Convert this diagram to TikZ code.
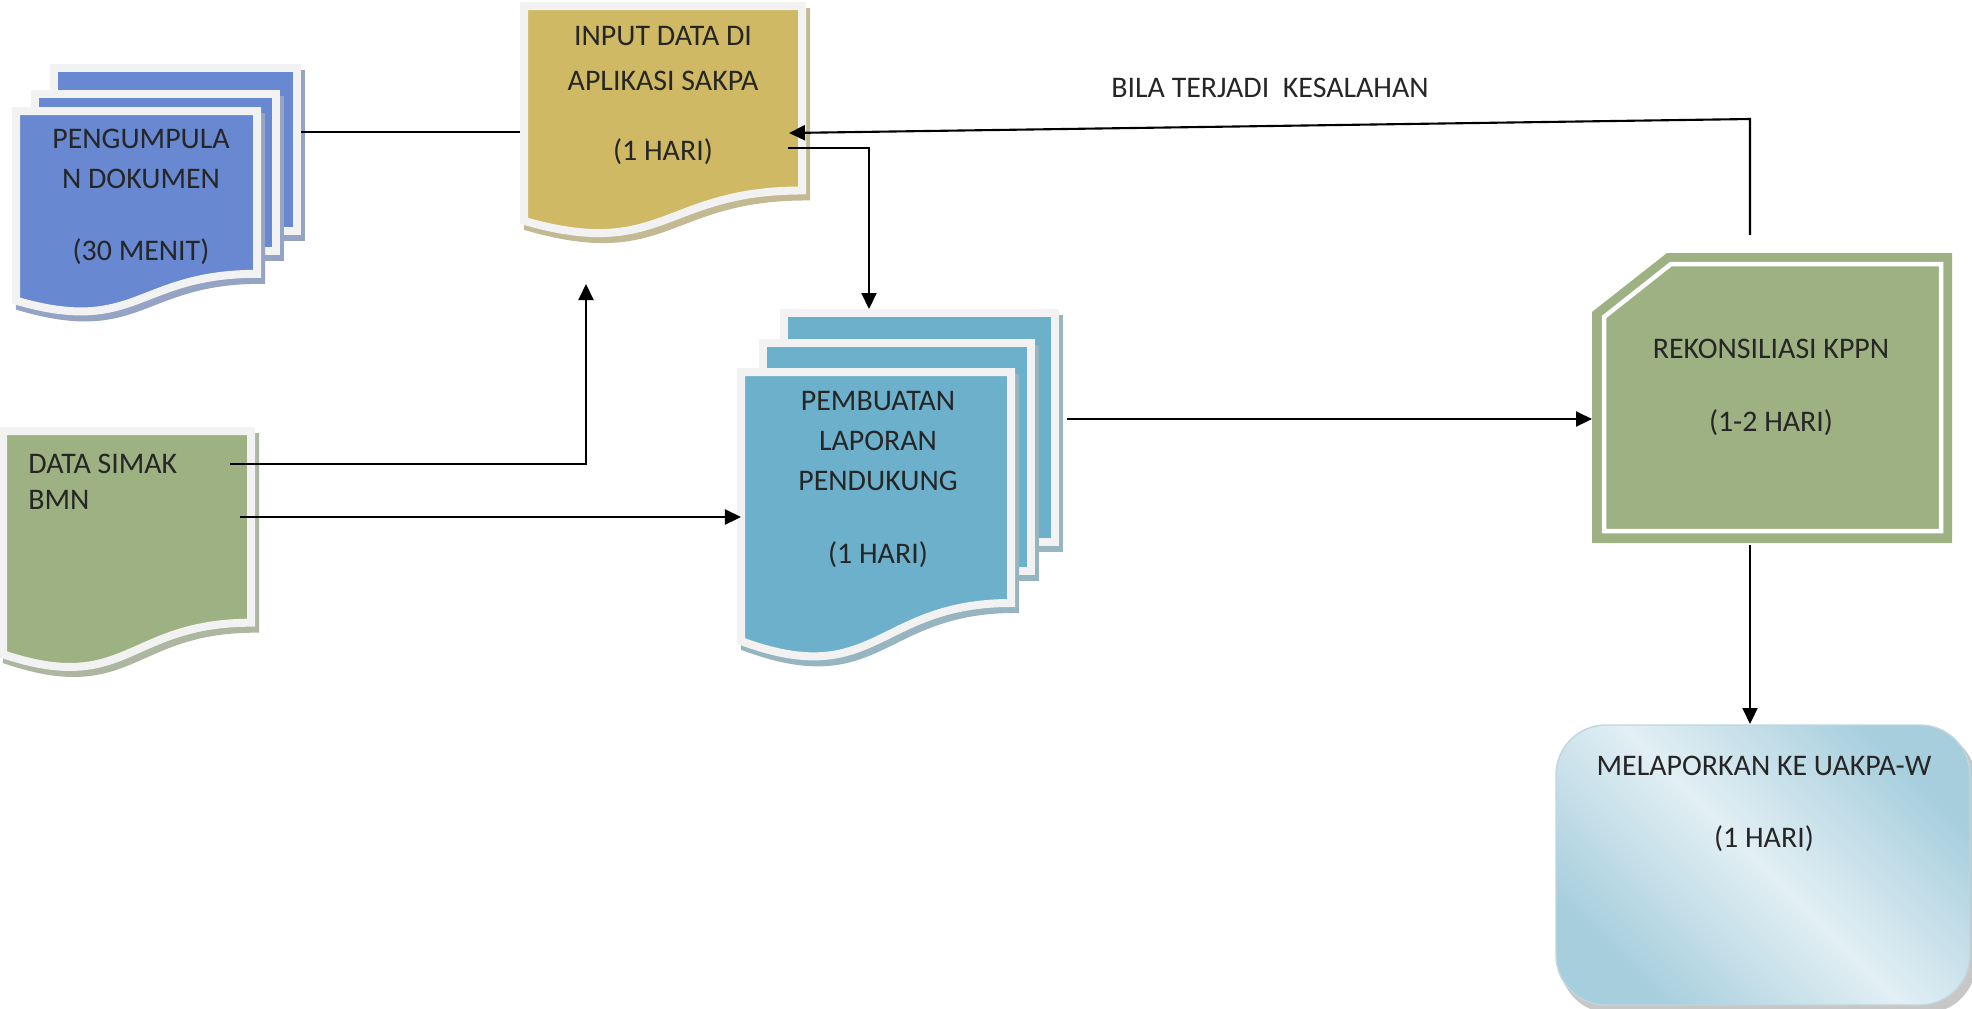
\documentclass[tikz,border=0pt]{standalone}
\usepackage{fontspec}
\setmainfont{Carlito}
\usepackage{xcolor}
\usepackage{tikz}
\usetikzlibrary{calc,arrows.meta}
\definecolor{sheetblue}{RGB}{104,136,210}
\definecolor{sheetgold}{RGB}{207,185,101}
\definecolor{sheetteal}{RGB}{108,176,203}
\definecolor{sheetgreen}{RGB}{157,177,130}
\definecolor{sheetedge}{RGB}{242,242,242}
\definecolor{laplight}{RGB}{226,239,244}
\definecolor{lapdark}{RGB}{166,206,221}
\tikzset{
  sheet/.style={draw=sheetedge,line width=0.08cm},
  sheetshadow/.style={fill=#1!60!gray!75!white,draw=#1!60!gray!75!white,line width=0.08cm},
  plain/.style={draw,line width=0.6pt},
  flow/.style={draw,line width=0.6pt,-{Triangle[length=1.6mm,width=1.5mm]}},
  boxtext/.style={font=\fontsize{8.5}{11.5}\selectfont,align=center,text=black!85},
  notetext/.style={font=\fontsize{8.5}{11.5}\selectfont,text=black!85}
}
% document sheet with wavy bottom: colour, x0, y0, x1, height
\newcommand{\docsheet}[5]{%
  \path[sheetshadow=#1,shift={(4,6)}] (#2,#3) -- (#4,#3) -- (#4,{#3+0.802*#5})
    .. controls ({(#2+#4)/2},{#3+0.802*#5}) and ({(#2+#4)/2},{#3+1.1075*#5}) .. (#2,{#3+0.934*#5}) -- cycle;
  \path[sheet,fill=#1] (#2,#3) -- (#4,#3) -- (#4,{#3+0.802*#5})
    .. controls ({(#2+#4)/2},{#3+0.802*#5}) and ({(#2+#4)/2},{#3+1.1075*#5}) .. (#2,{#3+0.934*#5}) -- cycle;
}

\begin{document}
\begin{tikzpicture}[x=0.01cm,y=-0.01cm]
  \useasboundingbox (0,0) rectangle (1972,1008);
  % pengumpulan dokumen
  \foreach \xa/\ya/\xb/\yb in {54/68/297/231,35/94/276/251} {
    \path[sheetshadow=sheetblue,shift={(4,6)}] (\xa,\ya) rectangle (\xb,\yb);
    \path[sheet,fill=sheetblue] (\xa,\ya) rectangle (\xb,\yb);
  }
  \docsheet{sheetblue}{16}{111}{257}{203}
  \node[boxtext] (pengumpulan) at (141,197) {PENGUMPULA\\N DOKUMEN\\[9pt](30 MENIT)};
  % input data
  \docsheet{sheetgold}{524}{6}{802}{230}
  \node[boxtext] (input) at (663,95) {INPUT DATA DI\\[1.3pt]APLIKASI SAKPA\\[8.4pt](1 HARI)};
  % data simak
  \docsheet{sheetgreen}{3}{431}{251}{239}
  \node[boxtext,anchor=west,align=left] (simak) at (16,482) {DATA SIMAK\\[-1.2pt]BMN};
  % pembuatan laporan
  \foreach \xa/\ya/\xb/\yb in {784/313/1055/542,763/343/1031/571} {
    \path[sheetshadow=sheetteal,shift={(4,6)}] (\xa,\ya) rectangle (\xb,\yb);
    \path[sheet,fill=sheetteal] (\xa,\ya) rectangle (\xb,\yb);
  }
  \docsheet{sheetteal}{741}{372}{1011}{288}
  \node[boxtext] (pembuatan) at (878,479) {PEMBUATAN\\LAPORAN\\PENDUKUNG\\[9pt](1 HARI)};
  % rekonsiliasi
  \path[fill=sheetgreen] (1667,253) -- (1952,253) -- (1952,543) -- (1592,543) -- (1592,312) -- cycle;
  \draw[white,line width=0.045cm] (1671,264) -- (1941,264) -- (1941,531) -- (1604,531) -- (1604,317) -- cycle;
  \node[boxtext] (rekon) at (1771,387) {REKONSILIASI KPPN\\[9.3pt](1-2 HARI)};
  % melaporkan
  \path[fill=black!22,rounded corners=0.5cm] (1560,731) rectangle (1976,1013);
  \shade[rounded corners=0.5cm,top color=lapdark,bottom color=lapdark,middle color=laplight,
    shading angle=-45,draw=lapdark!90!black!60] (1556,725) rectangle (1970,1005);
  \node[boxtext] (lapor) at (1764,804) {MELAPORKAN KE UAKPA-W\\[9pt](1 HARI)};

  % connector ends
  \coordinate (pengumpulan-e) at (301,132);
  \coordinate (input-w) at (520,132);
  \coordinate (input-s) at (586,284);
  \coordinate (input-e) at (789,133);
  \coordinate (input-out) at (788,148);
  \coordinate (simak-a) at (230,464);
  \coordinate (simak-b) at (240,517);
  \coordinate (pembuatan-w) at (741,517);
  \coordinate (pembuatan-n) at (869,309);
  \coordinate (pembuatan-e) at (1067,419);
  \coordinate (rekon-w) at (1592,419);
  \coordinate (rekon-n) at (1750,235);
  \coordinate (rekon-s) at (1750,545);
  \coordinate (feedback) at (1750,119);
  \coordinate (lapor-n) at (1750,724);

  \draw[plain] (pengumpulan-e) -- (input-w);
  \draw[flow] (simak-a) -| (input-s);
  \draw[flow] (simak-b) -- (pembuatan-w);
  \draw[flow] (input-out) -| (pembuatan-n);
  \draw[flow] (pembuatan-e) -- (rekon-w);
  \draw[flow] (rekon-n) -- (feedback) -- (input-e);
  \draw[flow] (rekon-s) -- (lapor-n);
  \node[notetext] (bila) at (1270,88) {BILA TERJADI~ KESALAHAN};
\end{tikzpicture}
\end{document}
